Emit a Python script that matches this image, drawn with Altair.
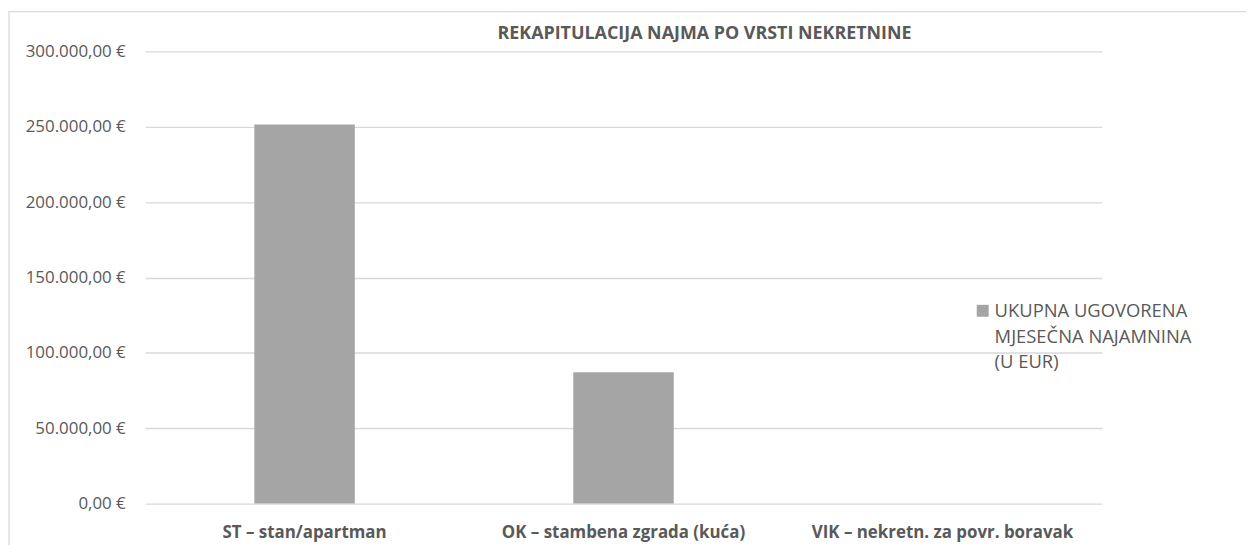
import altair as alt
import pandas as pd

title_text = "REKAPITULACIJA NAJMA PO VRSTI NEKRETNINE"
categories = ["ST – stan/apartman", "OK – stambena zgrada (kuća)", "VIK – nekretn. za povr. boravak"]
values = [251600, 87100, 0]
series_name = ["UKUPNA UGOVORENA", "MJESEČNA NAJAMNINA", "(U EUR)"]
y_ticks = [0, 50000, 100000, 150000, 200000, 250000, 300000]

BAR = "#a5a5a5"
TXT = "#595959"
GRID = "#d9d9d9"
FONT = "Open Sans"

df = pd.DataFrame({"kategorija": categories, "iznos": values})

border = alt.Chart(alt.Data(values=[{}])).mark_rect(
    fill="transparent", stroke=GRID, strokeWidth=1.3
).encode(
    x=alt.value(-137), x2=alt.value(1300), y=alt.value(-40), y2=alt.value(700)
)

bars = alt.Chart(df).mark_bar(color=BAR).encode(
    x=alt.X(
        "kategorija:N",
        sort=categories,
        scale=alt.Scale(paddingInner=0.685, paddingOuter=0.3425),
        axis=alt.Axis(
            title=None, labelAngle=0, domain=False, ticks=False, grid=False,
            labelFont=FONT, labelFontSize=17, labelFontWeight="bold",
            labelColor=TXT, labelPadding=21, labelLimit=400,
        ),
    ),
    y=alt.Y(
        "iznos:Q",
        scale=alt.Scale(domain=[0, 300000], nice=False),
        axis=alt.Axis(
            title=None, values=y_ticks, domain=False, ticks=False,
            grid=True, gridColor=GRID, gridWidth=1.3,
            labelFont=FONT, labelFontSize=17, labelColor=TXT, labelPadding=20,
            labelExpr="replace(replace(replace(format(datum.value, ',.2f'), regexp(',', 'g'), '#'), '.', ','), regexp('#', 'g'), '.') + ' €'",
        ),
    ),
)

title_mark = alt.Chart(alt.Data(values=[{"t": title_text}])).mark_text(
    align="center", baseline="middle", font=FONT, fontSize=18,
    fontWeight="bold", color=TXT,
).encode(x=alt.value(563), y=alt.value(-18), text="t:N")

legend_sym = alt.Chart(alt.Data(values=[{}])).mark_square(
    color=BAR, size=144, opacity=1
).encode(x=alt.value(843), y=alt.value(261))

legend_txt = alt.Chart(alt.Data(values=[{"t": "\n".join(series_name)}])).mark_text(
    align="left", baseline="top", lineBreak="\n", lineHeight=26,
    font=FONT, fontSize=18.5, color=TXT,
).encode(x=alt.value(855), y=alt.value(252), text="t:N")

chart = alt.layer(border, bars, title_mark, legend_sym, legend_txt).properties(
    width=963,
    height=455,
    autosize=alt.AutoSizeParams(type="none"),
    padding={"left": 138, "top": 42, "right": 145, "bottom": 40},
).configure(
    background="white",
    view=alt.ViewConfig(stroke="transparent", strokeWidth=0),
)

chart.save("out.html", embed_options={"renderer": "svg", "actions": False})
